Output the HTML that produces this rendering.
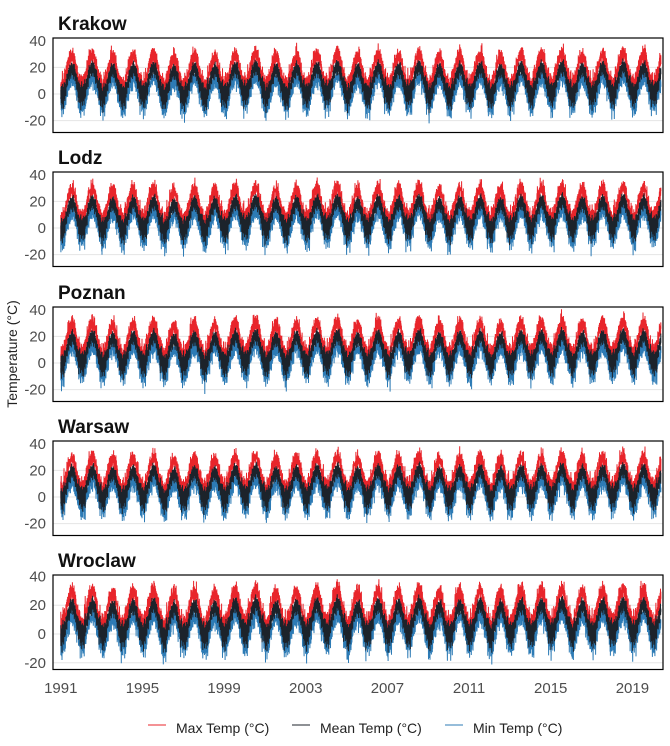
<!DOCTYPE html>
<html><head><meta charset="utf-8"><style>
body{margin:0;background:#fff;font-family:"Liberation Sans",sans-serif;}
svg{display:block}
</style></head><body>
<svg id="chart" width="670" height="746"></svg>
<script>
const cities = ["Krakow","Lodz","Poznan","Warsaw","Wroclaw"];
const climMean = [-2,-1,3,8,14,17,19,18,14,8,3,0];
const climRangeUp = [3,4,6,7,7,7,7,7,6,5,3,3];
const climRangeDown = [4,4,5,5,6,5,5,5,5,4,3,4];
const yearAnom = [0,1,-1,0,1,-2,0,-1,1,2,-1,0,1,2,-1,1,0,2,-1,0,1,-1,1,1,2,0,1,2,1,2];
const cityAnom = [0,0.3,0.4,0.2,0.6];
const dayNoise = [3,-2,5,1,-4,6,-1,2,-7,4,0,-3,7,-2,1,-5,3,5,-1,-8,2,4,-3,0,6,-4,1,-2,5,-6,2,3,-1,-3,4,-5,1,-9,2,6,-2,0,3,-4,8,-1,-3,2,5,-6,1,4,-2];
const spreadNoise = [2,5,1,7,3,0,4,8,2,6,1,3,9,0,5,2,4,1,6,3,7,0,2,5,3];
const yTicks = [40,20,0,-20];
const xTicks = [1991,1995,1999,2003,2007,2011,2015,2019];
const startYear = 1991, nYears = 30;

const NS="http://www.w3.org/2000/svg";
const svg=document.getElementById('chart');
function mk(t,a,p){const e=document.createElementNS(NS,t);for(const k in a)e.setAttribute(k,a[k]);(p||svg).appendChild(e);return e;}
const X0=53,X1=663;
const xs=t=>X0+(t-1990.62)/(2020.5-1990.62)*(X1-X0);
const panelTop=[38,172,307,441,575];
const panelZero=[56,56,56,56,59];
const panelScale=[1.33,1.33,1.33,1.33,1.44];
function climAt(arr,frac){const m=frac*12-0.5;const i=Math.floor(m);const f=m-i;const a=arr[(i+12)%12],b=arr[(i+13)%12];return a+(b-a)*f;}

cities.forEach((c,ci)=>{
  const top=panelTop[ci];
  const ys=v=>top+panelZero[ci]-(v*panelScale[ci]);
  const g=mk('g',{});
  
  
  const title=mk('text',{x:58,y:top-8,'font-size':19,'font-weight':'bold',fill:'#111'},g);
  title.textContent=c;
  
  
  yTicks.forEach(v=>{
    if(v!==40){const gl=mk('line',{x1:X0,x2:X1,y1:ys(v),y2:ys(v),stroke:'#e5e5e5','stroke-width':1},g);
    }
    const t=mk('text',{x:46,y:ys(v)+5,'font-size':15,fill:'#4d4d4d','text-anchor':'end'},g);
    t.textContent=v;
    
  });
  const dMax=[],dMin=[],dMean=[];
  let k=0;
  for(let y=0;y<nYears;y++){
    for(let s=0;s<146;s++){
      const frac=s/146;const t=startYear+y+frac;
      if(t>2020.4)break;
      const n=dayNoise[(k+ci*7)%dayNoise.length];
      const wint=(frac<0.2||frac>0.85)?1.3:0.8;
      const mean=climAt(climMean,frac)+yearAnom[y]*0.8+cityAnom[ci]+n*wint;
      const up=climAt(climRangeUp,frac)+spreadNoise[(k+ci*3)%spreadNoise.length]*0.7;
      const dn=climAt(climRangeDown,frac)+spreadNoise[(k*2+ci)%spreadNoise.length]*0.6;
      const x=xs(t).toFixed(1);
      dMax.push(x+' '+ys(mean+up).toFixed(1));
      dMean.push(x+' '+ys(mean).toFixed(1));
      dMin.push(x+' '+ys(mean-dn).toFixed(1));
      k++;
    }
  }
  [[dMax,'#e8252b','max-temp-line'],[dMin,'#2d7bb5','min-temp-line'],[dMean,'#1c232b','mean-temp-line']].forEach(([pts,col,nm])=>{
    const p=mk('path',{d:'M'+pts.join('L'),fill:'none',stroke:col,'stroke-width':1},g);
    
    
  });
  const box=mk('rect',{x:X0,y:top,width:X1-X0,height:94.5,fill:'none',stroke:'#000','stroke-width':1.2},g);
  
});
xTicks.forEach(v=>{
  const t=mk('text',{x:xs(v),y:693,'font-size':15,fill:'#4d4d4d','text-anchor':'middle'});
  t.textContent=v;
  
});
const yl=mk('text',{x:0,y:0,'font-size':14,fill:'#222','text-anchor':'middle',transform:'translate(17,354) rotate(-90)'});
yl.textContent='Temperature (°C)';

const leg=[['Max Temp (°C)',148,'#e8252b'],['Mean Temp (°C)',292,'#1c232b'],['Min Temp (°C)',445,'#2d7bb5']];
leg.forEach(([lab,x,col])=>{
  const g=mk('g',{});
  
  mk('line',{x1:x,x2:x+18,y1:725,y2:725,stroke:col,'stroke-width':1},g);
  const t=mk('text',{x:x+28,y:733,'font-size':14,fill:'#222'},g);
  t.textContent=lab;
});
</script>
</body></html>
